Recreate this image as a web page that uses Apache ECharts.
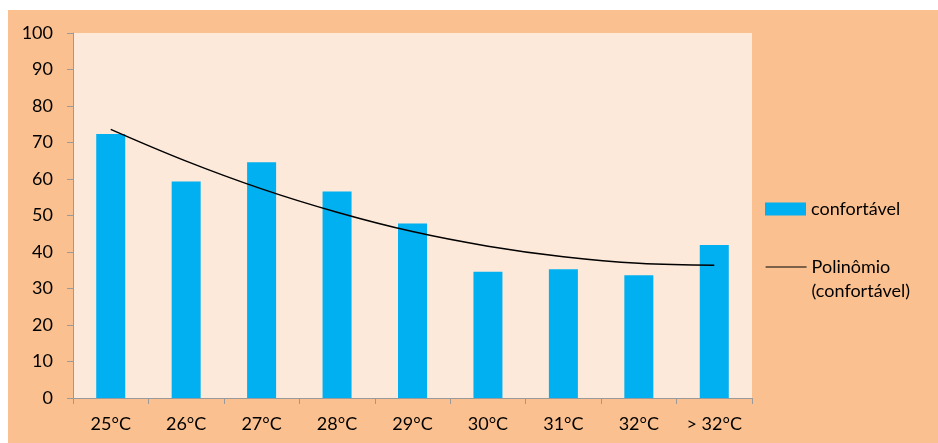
<!DOCTYPE html>
<html>
<head>
<meta charset="utf-8">
<script src="https://cdn.jsdelivr.net/npm/echarts@6/dist/echarts.min.js"></script>
<style>
  html, body { margin: 0; padding: 0; background: #ffffff; }
  #chart { width: 938px; height: 443px; }
</style>
</head>
<body>
<div id="chart"></div>
<script>
// Temperature categories
const categories = ['25°C', '26°C', '27°C', '28°C', '29°C', '30°C', '31°C', '32°C', '> 32°C'];
// Share of "confortável" answers per temperature
const comfortValues = [72.3, 59.3, 64.6, 56.6, 47.8, 34.6, 35.3, 33.6, 41.9];
// Polynomial trend line values at each category
const trendValues = [73.6, 64.9, 57.3, 50.9, 45.6, 41.6, 38.7, 36.9, 36.4];
// Y axis ticks
const yMin = 0, yMax = 100, yStep = 10;

const FONT = 'Lato, "Open Sans", sans-serif';
const chart = echarts.init(document.getElementById('chart'));

chart.setOption({
  backgroundColor: '#ffffff',
  animation: false,
  graphic: [{
    type: 'rect',
    z: -10,
    shape: { x: 8, y: 10, width: 930, height: 433 },
    style: { fill: '#FAC090' },
    silent: true
  }],
  grid: {
    left: 73, top: 33, right: 186, bottom: 45,
    show: true, backgroundColor: '#FDE9D9', borderWidth: 0
  },
  legend: [{
    data: ['confortável'],
    left: 765, top: 197,
    padding: 0,
    itemWidth: 41, itemHeight: 13,
    icon: 'rect',
    textStyle: { fontFamily: FONT, fontSize: 18, color: '#000', lineHeight: 24 }
  }, {
    data: [{
      name: 'Polinômio (confortável)',
      itemStyle: { color: 'transparent', borderColor: 'transparent', borderWidth: 0 }
    }],
    left: 765, top: 231,
    padding: 0,
    itemWidth: 41, itemHeight: 14,
    lineStyle: { color: '#000', width: 1.2 },
    formatter: () => ' \nPolinômio\n(confortável)',
    textStyle: { fontFamily: FONT, fontSize: 18, color: '#000', lineHeight: 24 }
  }],
  xAxis: {
    type: 'category',
    data: categories,
    axisLine: { lineStyle: { color: '#9a9a9a', width: 1 } },
    axisTick: { show: true, length: 6, lineStyle: { color: '#9a9a9a' } },
    axisLabel: { fontFamily: FONT, fontSize: 18, color: '#000', margin: 17 }
  },
  yAxis: {
    type: 'value',
    min: yMin, max: yMax, interval: yStep,
    splitLine: { show: false },
    axisLine: { show: true, lineStyle: { color: '#9a9a9a', width: 1 } },
    axisTick: { show: true, length: 6, lineStyle: { color: '#9a9a9a' } },
    axisLabel: { fontFamily: FONT, fontSize: 18, color: '#000', margin: 20 }
  },
  series: [{
    name: 'confortável',
    type: 'bar',
    data: comfortValues,
    barWidth: 29,
    itemStyle: { color: '#00B0F0' }
  }, {
    name: 'Polinômio (confortável)',
    type: 'line',
    data: trendValues,
    smooth: 0.4,
    symbol: 'none',
    lineStyle: { color: '#000', width: 1.5 },
    itemStyle: { color: '#000' }
  }]
});
</script>
</body>
</html>
